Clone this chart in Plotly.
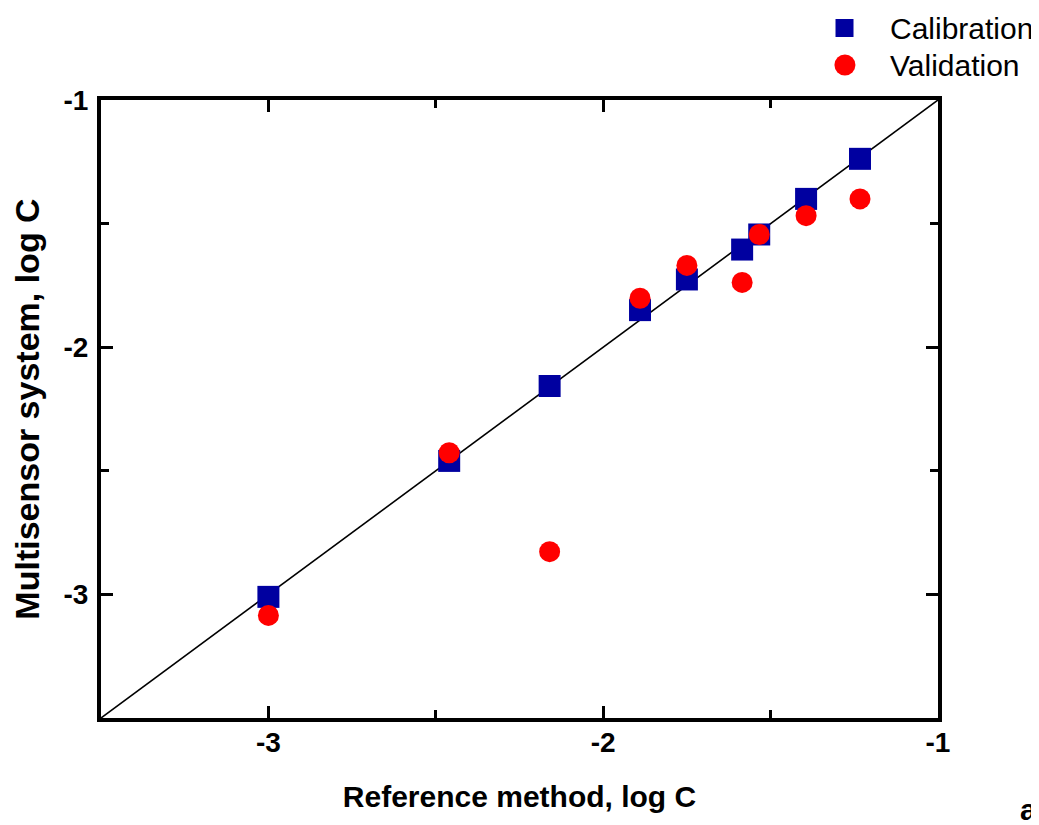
import plotly.graph_objects as go

# Data
cal_x = [-3.00, -2.46, -2.16, -1.89, -1.75, -1.585, -1.534, -1.394, -1.233]
cal_y = [-3.01, -2.46, -2.157, -1.85, -1.726, -1.605, -1.544, -1.40, -1.238]
val_x = [-3.00, -2.46, -2.16, -1.89, -1.75, -1.585, -1.534, -1.394, -1.233]
val_y = [-3.085, -2.427, -2.827, -1.802, -1.669, -1.738, -1.544, -1.468, -1.40]
line_x = [-3.5, -1.0]
line_y = [-3.5, -1.0]
tick_vals = [-3, -2, -1]
tick_text = ["-3", "-2", "-1"]
series_names = ["Calibration", "Validation"]
series_colors = ["#0000a0", "#ff0000"]

font_fam = "Liberation Sans, Arial, sans-serif"

fig = go.Figure()
fig.add_trace(go.Scatter(x=line_x, y=line_y, mode="lines",
                         line=dict(color="black", width=1.6), showlegend=False,
                         hoverinfo="skip"))
fig.add_trace(go.Scatter(x=cal_x, y=cal_y, mode="markers", name=series_names[0],
                         showlegend=False,
                         marker=dict(symbol="square", size=22, color=series_colors[0],
                                     line=dict(width=0))))
fig.add_trace(go.Scatter(x=val_x, y=val_y, mode="markers", name=series_names[1],
                         showlegend=False,
                         marker=dict(symbol="circle", size=21, color=series_colors[1],
                                     line=dict(width=0))))

axis_common = dict(
    range=[-3.5, -1.0], showgrid=False, zeroline=False, automargin=False,
    showline=True, linecolor="black", linewidth=4, mirror="allticks",
    ticks="inside", ticklen=12, tickwidth=3, tickcolor="black",
    tickvals=tick_vals, ticktext=tick_text,
    tickfont=dict(family=font_fam, size=28, color="black", weight="bold"),
    minor=dict(dtick=0.5, tick0=-3.5, ticks="inside", ticklen=8, tickwidth=3,
               tickcolor="black", showgrid=False),
)

fig.update_xaxes(**axis_common, ticklabelstandoff=-4,
                 title=dict(text="<b>Reference method, log C</b>",
                            font=dict(family=font_fam, size=30, color="black"),
                            standoff=30))
fig.update_yaxes(**axis_common, ticklabelstandoff=3,
                 title=dict(text="<b>Multisensor system, log C</b>",
                            font=dict(family=font_fam, size=34, color="black"),
                            standoff=16))

# Legend drawn as shapes + text (to allow the larger symbol size of the reference)
shapes = [
    dict(type="rect", xref="paper", yref="paper", xsizemode="pixel", ysizemode="pixel",
         xanchor=0.8883, yanchor=1.1165, x0=-9, x1=9, y0=-9, y1=9,
         fillcolor=series_colors[0], line=dict(width=0)),
    dict(type="circle", xref="paper", yref="paper", xsizemode="pixel", ysizemode="pixel",
         xanchor=0.8888, yanchor=1.0566, x0=-10.5, x1=10.5, y0=-10.5, y1=10.5,
         fillcolor=series_colors[1], line=dict(width=0)),
]
annotations = [
    dict(text=series_names[0], x=0.9405, y=1.1165, xref="paper", yref="paper",
         xanchor="left", yanchor="middle", showarrow=False,
         font=dict(family=font_fam, size=30, color="black")),
    dict(text=series_names[1], x=0.9405, y=1.0566, xref="paper", yref="paper",
         xanchor="left", yanchor="middle", showarrow=False,
         font=dict(family=font_fam, size=30, color="black")),
    dict(text="<b>a</b>", x=1.1082, y=-0.1486, xref="paper", yref="paper",
         xanchor="center", yanchor="middle", showarrow=False,
         font=dict(family=font_fam, size=30, color="black")),
]

# The page body adds an 8 px offset, so margins are shifted to compensate.
fig.update_layout(
    width=1039, height=825,
    margin=dict(l=93, r=109, t=92, b=115),
    plot_bgcolor="white", paper_bgcolor="white",
    showlegend=False,
    shapes=shapes,
    annotations=annotations,
)

fig.write_html("out.html")
